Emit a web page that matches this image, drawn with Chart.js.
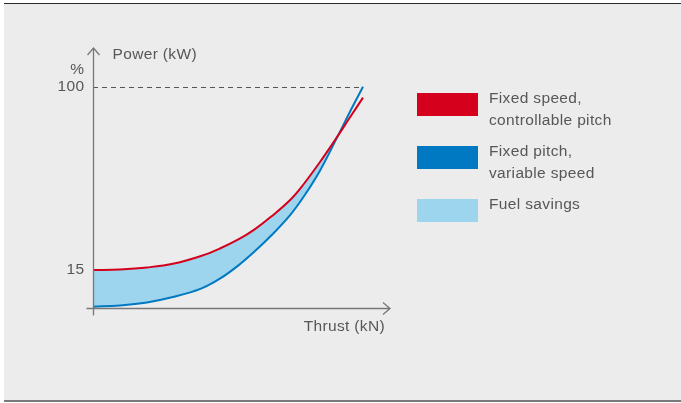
<!DOCTYPE html>
<html>
<head>
<meta charset="utf-8">
<script src="https://cdn.jsdelivr.net/npm/chart.js@4"></script>
<style>
  html, body { margin: 0; padding: 0; background: #fff; }
  #panel {
    position: absolute; left: 4px; top: 3px; width: 677px; height: 396px;
    background: #ececec; border-top: 1.5px solid #2b2b2b; border-bottom: 2px solid #7a7a7a;
  }
  canvas { position: absolute; left: 0; top: 0; }
</style>
</head>
<body>
<div id="panel"></div>
<canvas id="chart" width="681" height="403"></canvas>
<script>
// thrust in % of max, power in %
var thrust = [0, 10, 20, 30, 40, 47, 54, 60, 66, 73, 78, 84, 90, 95, 100];
var fixedSpeed = [15, 15.3, 16.2, 18, 21.5, 25, 29.3, 34, 39.8, 47.5, 54.8, 65, 76, 85.5, 95];
var fixedPitch = [-2, -1.4, 0, 2.6, 6.4, 11, 17.3, 23.8, 31, 40.5, 49, 61, 75.5, 88, 100];
var yTicks = [15, 100];
var legendLabels = [
  ['Fixed speed,', 'controllable pitch'],
  ['Fixed pitch,', 'variable speed'],
  ['Fuel savings']
];
var colors = ['#d5001c', '#0079c2', '#9dd5ee'];

function pts(ys) {
  return thrust.map(function (x, i) { return { x: x, y: ys[i] }; });
}

var font = '15.5px "Liberation Sans", Arial, sans-serif';
var textColor = '#575757';
var axisColor = '#777';

var decor = {
  id: 'decor',
  beforeDatasetsDraw: function (chart) {
    var ctx = chart.ctx, xs = chart.scales.x, ys = chart.scales.y;
    var x0 = xs.getPixelForValue(0);
    ctx.save();
    // dashed 100 line
    ctx.strokeStyle = '#555';
    ctx.lineWidth = 1;
    ctx.setLineDash([5, 4]);
    ctx.beginPath();
    ctx.moveTo(x0, Math.round(ys.getPixelForValue(100)) + 0.5);
    ctx.lineTo(xs.getPixelForValue(100), Math.round(ys.getPixelForValue(100)) + 0.5);
    ctx.stroke();
    ctx.restore();
  },
  afterDraw: function (chart) {
    var ctx = chart.ctx, xs = chart.scales.x, ys = chart.scales.y;
    var x0 = Math.round(xs.getPixelForValue(0)) + 0.5, y0 = Math.round(ys.bottom) + 0.5;
    var top = ys.top, right = xs.right;
    ctx.save();
    ctx.strokeStyle = axisColor;
    ctx.lineWidth = 1.3;
    ctx.beginPath();
    ctx.moveTo(x0, y0 + 7); ctx.lineTo(x0, top);
    ctx.moveTo(x0 - 7, y0); ctx.lineTo(right, y0);
    // arrow heads
    ctx.moveTo(x0 - 6, top + 7); ctx.lineTo(x0, top); ctx.lineTo(x0 + 6, top + 7);
    ctx.moveTo(right - 7, y0 - 6); ctx.lineTo(right, y0); ctx.lineTo(right - 7, y0 + 6);
    ctx.stroke();

    ctx.fillStyle = textColor;
    ctx.font = font;
    ctx.letterSpacing = '0.35px';
    ctx.textBaseline = 'middle';
    ctx.textAlign = 'right';
    yTicks.forEach(function (v) {
      ctx.fillText(String(v), x0 - 9, ys.getPixelForValue(v));
    });
    ctx.fillText('%', x0 - 9, ys.getPixelForValue(100) - 17);
    ctx.textAlign = 'left';
    ctx.fillText('Power (kW)', x0 + 19, top + 7);
    ctx.textAlign = 'right';
    ctx.fillText('Thrust (kN)', right - 5, y0 + 18);

    // legend
    var lx = 417, ly = 93;
    legendLabels.forEach(function (lines, i) {
      ctx.fillStyle = colors[i];
      ctx.fillRect(lx, ly, 61, 23);
      ctx.fillStyle = textColor;
      ctx.textAlign = 'left';
      lines.forEach(function (t, j) {
        ctx.fillText(t, lx + 72, ly + 6 + j * 22);
      });
      ly += 53;
    });
    ctx.restore();
  }
};

new Chart(document.getElementById('chart'), {
  type: 'line',
  data: {
    datasets: [
      {
        label: legendLabels[0].join(' '),
        data: pts(fixedSpeed),
        borderColor: colors[0],
        borderWidth: 2,
        pointRadius: 0,
        tension: 0.4,
        fill: false
      },
      {
        label: legendLabels[1].join(' '),
        data: pts(fixedPitch),
        borderColor: colors[1],
        borderWidth: 2,
        pointRadius: 0,
        tension: 0.4,
        fill: { target: 0, above: 'rgba(0,0,0,0)', below: colors[2] }
      }
    ]
  },
  options: {
    responsive: false,
    animation: false,
    layout: { padding: { left: 93, right: 291, top: 48, bottom: 95 } },
    scales: {
      x: { type: 'linear', min: 0, max: 110, display: false },
      y: { type: 'linear', min: -2.6, max: 118, display: false }
    },
    plugins: { legend: { display: false }, tooltip: { enabled: false } }
  },
  plugins: [decor]
});
</script>
</body>
</html>
